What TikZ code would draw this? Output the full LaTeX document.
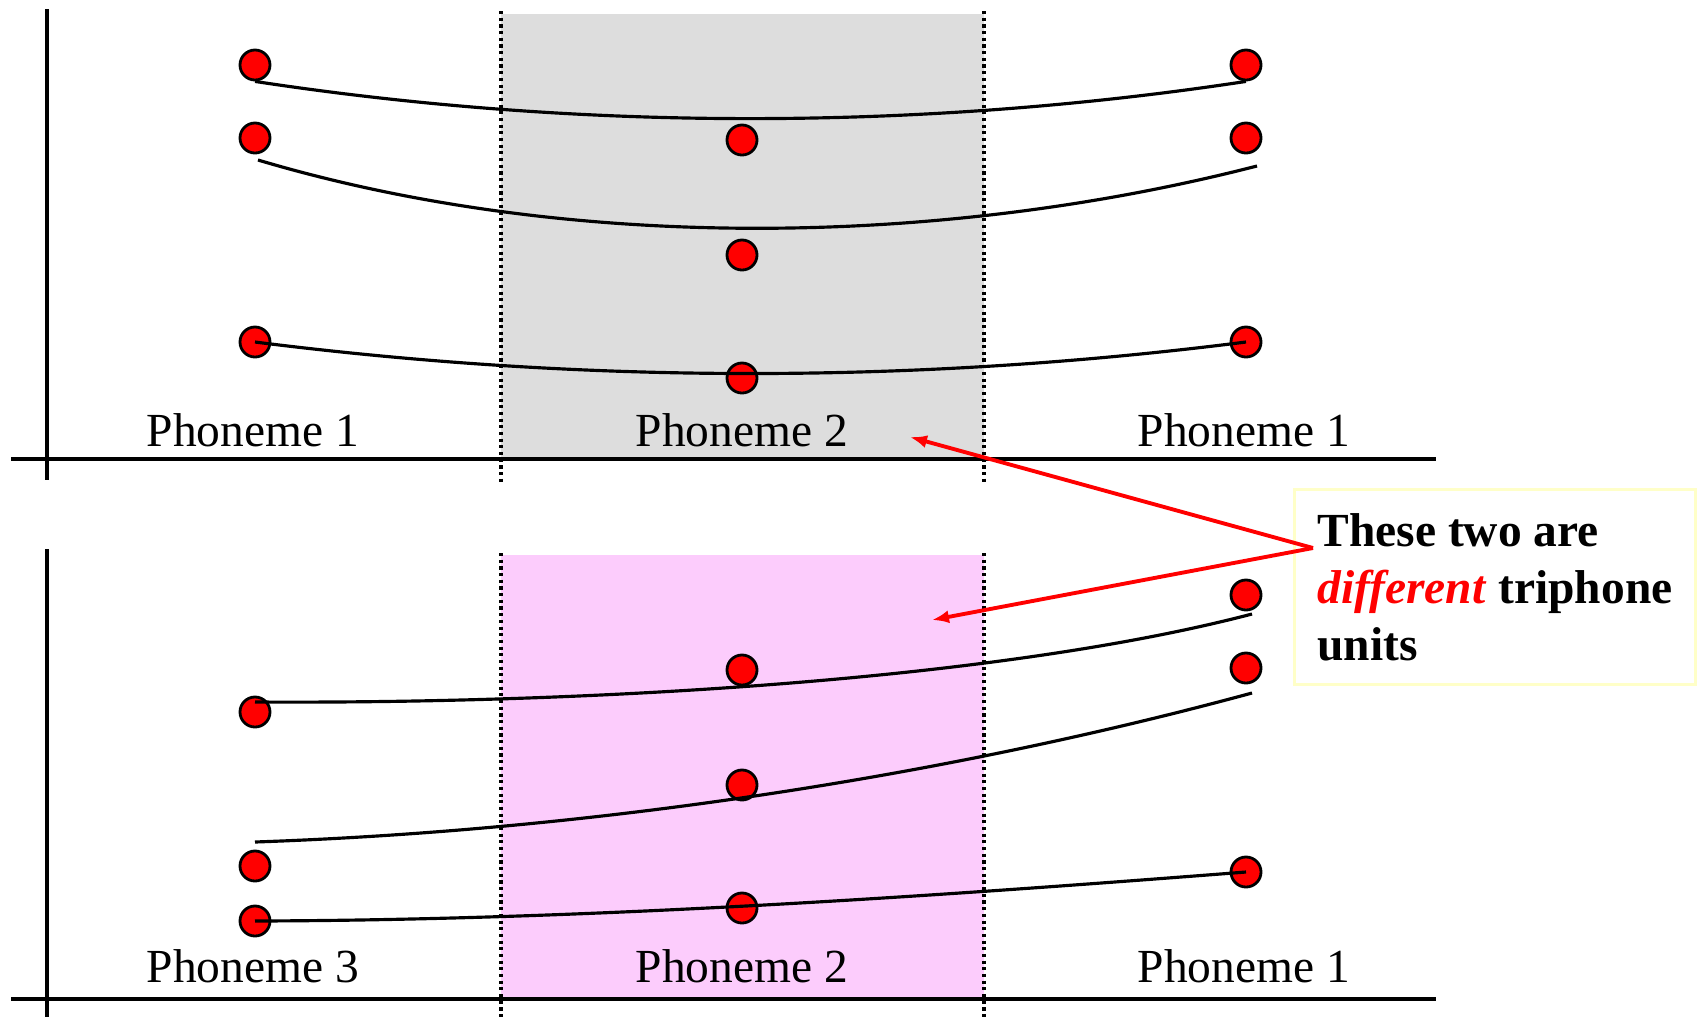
\documentclass[tikz,border=0pt]{standalone}
\usepackage{fontspec}
\setmainfont{Liberation Serif}
\usepackage{xcolor}
\usetikzlibrary{arrows.meta}
\definecolor{panelgray}{RGB}{221,221,221}
\definecolor{panelpink}{RGB}{252,204,252}
\definecolor{noteedge}{RGB}{255,255,200}

\begin{document}
\begin{tikzpicture}[x=0.01cm, y=-0.01cm, >=Latex,
  axisline/.style={line width=1.1pt},
  bound/.style={densely dotted, line width=0.9pt},
  feat/.style={circle, draw=black, fill=red, line width=0.8pt, minimum size=0.3cm, inner sep=0pt},
  traj/.style={line width=0.9pt},
  lbl/.style={font=\fontsize{13.5}{16.2}\selectfont, anchor=base},
  note/.style={draw=noteedge, fill=white, line width=0.8pt, align=left, font=\bfseries\fontsize{13.5}{16.2}\selectfont, minimum width=4.01cm, minimum height=1.95cm, inner xsep=0.2cm},
  pointer/.style={-{Latex[length=0.17cm, width=0.13cm]}, red, line width=1.1pt}]
\useasboundingbox (0,0) rectangle (1699,1017);

% middle phoneme segments
\fill[panelgray] (501,14) rectangle (984,459);
\fill[panelpink] (501,555) rectangle (984,999);

% axes
\draw[axisline] (47,9) -- (47,480);
\draw[axisline] (11,459) -- (1436,459);
\draw[axisline] (47,549) -- (47,1017);
\draw[axisline] (11,999) -- (1436,999);

% segment boundaries
\draw[bound] (501,11) -- (501,483);
\draw[bound] (984,11) -- (984,483);
\draw[bound] (501,553) -- (501,1017);
\draw[bound] (984,553) -- (984,1017);

% upper panel: phoneme 1 - phoneme 2 - phoneme 1
\node[feat] (tl1) at (255,65) {};
\node[feat] (tl2) at (255,138) {};
\node[feat] (tl3) at (255,342) {};
\node[feat] (tc1) at (742,140) {};
\node[feat] (tc2) at (742,255) {};
\node[feat] (tc3) at (742,378) {};
\node[feat] (tr1) at (1246,65) {};
\node[feat] (tr2) at (1246,138) {};
\node[feat] (tr3) at (1246,342) {};
\coordinate (s2a) at (258,160);
\coordinate (s2b) at (1257,166);
\draw[traj] (tl1.south) .. controls (580,131) and (920,131) .. (tr1.south);
\draw[traj] (s2a) .. controls (560,250) and (930,250) .. (s2b);
\draw[traj] (tl3.center) .. controls (587,384) and (916,384) .. (tr3.center);
\node[lbl] (ph1a) at (253,446) {Phoneme 1};
\node[lbl] (ph2a) at (742,446) {Phoneme 2};
\node[lbl] (ph1b) at (1244,446) {Phoneme 1};

% lower panel: phoneme 3 - phoneme 2 - phoneme 1
\node[feat] (bl1) at (255,712) {};
\node[feat] (bl2) at (255,866) {};
\node[feat] (bl3) at (255,921) {};
\node[feat] (bc1) at (742,670) {};
\node[feat] (bc2) at (742,785) {};
\node[feat] (bc3) at (742,908) {};
\node[feat] (br1) at (1246,595) {};
\node[feat] (br2) at (1246,668) {};
\node[feat] (br3) at (1246,872) {};
\coordinate (u1a) at (255,702);
\coordinate (u1b) at (1252,614);
\coordinate (u2a) at (255,842);
\coordinate (u2b) at (1252,693);
\draw[traj] (u1a) .. controls (590,704) and (1000,680) .. (u1b);
\draw[traj] (u2a) .. controls (600,830) and (950,775) .. (u2b);
\draw[traj] (bl3.center) .. controls (600,920) and (950,895) .. (br3.center);
\node[lbl] (ph3c) at (253,982) {Phoneme 3};
\node[lbl] (ph2c) at (742,982) {Phoneme 2};
\node[lbl] (ph1c) at (1244,982) {Phoneme 1};

% callout
\node[note, anchor=north west] (remark) at (1293,488) {These two are\\\textcolor{red}{\textit{different}} triphone\\units};
\coordinate (fork) at (1313,548);
\coordinate (aimtop) at (910,437);
\coordinate (aimbot) at (932,620);
\draw[pointer] (fork) -- (aimtop);
\draw[pointer] (fork) -- (aimbot);
\end{tikzpicture}
\end{document}
